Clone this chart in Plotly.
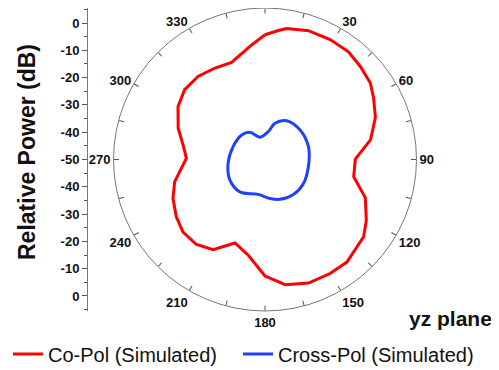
import plotly.graph_objects as go

# Co-Pol (red) pattern, angle in degrees (clockwise from top), value in dB
theta_co = [0, 5.9, 9.4, 18.6, 28.5, 37.8, 45.7, 54.0, 60.5, 69.1, 79.5, 89.7, 101.0,
            110.8, 121.0, 128.1, 141.4, 150.3, 160.6, 170.9, 173.3, 180.0, 189.9, 199.8,
            209.9, 218.9, 228.5, 237.1, 247.1, 256.1, 270.9, 280.1, 289.8, 301.3, 311.0,
            321.1, 331.3, 341.0, 352.4, 360]
r_co = [-4.3, -2.5, -1.4, -0.2, 0.0, -0.1, -1.2, -2.3, -4.3, -6.7, -10.7, -16.9, -16.9,
        -10.7, -6.7, -4.1, -1.9, -1.9, -2.0, -3.5, -4.8, -7.3, -14.4, -17.5,
        -11.9, -10.0, -9.9, -11.3, -13.4, -15.9, -21.2, -19.5, -16.2, -12.7, -11.0,
        -10.9, -11.8, -12.4, -8.2, -4.3]

# Cross-Pol (blue) pattern
theta_x = [347.3, 6.8, 15.4, 29.2, 49.9, 73.5, 99.4, 121.9, 140.9, 159.4, 172.7, 190.9,
           217.8, 239.6, 264.1, 292.0, 316.4, 331.1, 347.3]
r_x = [-41.6, -39.7, -36.2, -33.7, -33.2, -33.4, -33.9, -33.4, -33.5, -34.4, -35.6, -37.0,
       -35.0, -35.1, -36.4, -37.4, -37.6, -38.6, -41.6]

ang_ticks = list(range(0, 360, 15))
ang_labels = [str(a) if (a % 30 == 0 and a != 0) else "" for a in ang_ticks]

y_ticks = [-50, -40, -30, -20, -10, 0, 10, 20, 30, 40, 50]
y_labels = ["0", "-10", "-20", "-30", "-40", "-50", "-40", "-30", "-20", "-10", "0"]

# the page adds an 8px body margin, so the figure is 8px smaller and all
# positions below are page positions minus 8
OFF = 8
W, H = 499 - OFF, 370 - OFF
cx, cy, R = 265 - OFF, 159.5 - OFF, 151.5


def px(x):
    return (x - OFF) / W


def py(y):
    return 1 - (y - OFF) / H


FONT = "Liberation Sans, Arial, sans-serif"

fig = go.Figure()
fig.add_trace(go.Scatterpolar(theta=theta_co, r=r_co, mode="lines", name="Co-Pol (Simulated)",
                              line=dict(color="#FF0000", width=3), legend="legend"))
fig.add_trace(go.Scatterpolar(theta=theta_x, r=r_x, mode="lines", name="Cross-Pol (Simulated)",
                              line=dict(color="#2040FF", width=3, shape="spline", smoothing=1),
                              legend="legend2"))
# invisible trace so the cartesian dB scale is drawn
fig.add_trace(go.Scatter(x=[None], y=[None], mode="lines", showlegend=False, hoverinfo="skip"))

ydom = [max(0.0, 1 - (cy + R) / H), min(1.0, 1 - (cy - R) / H)]
legend_style = dict(orientation="h", xanchor="left", y=py(354), yanchor="middle",
                    font=dict(size=20, family=FONT, color="#111"), bgcolor="rgba(0,0,0,0)")
fig.update_layout(
    width=W, height=H,
    margin=dict(l=0, r=0, t=0, b=0, autoexpand=False),
    paper_bgcolor="white", plot_bgcolor="rgba(0,0,0,0)",
    font=dict(family=FONT, color="black"),
    polar=dict(
        domain=dict(x=[(cx - R) / W, (cx + R) / W], y=ydom),
        bgcolor="white",
        angularaxis=dict(rotation=90, direction="clockwise", tickmode="array",
                         tickvals=ang_ticks, ticktext=ang_labels, ticks="inside", ticklen=5,
                         tickcolor="#555", linecolor="#777", linewidth=1, showgrid=False,
                         tickfont=dict(size=13, family=FONT, weight="bold", color="#111")),
        radialaxis=dict(range=[-50, 5.5], visible=False, showgrid=False),
    ),
    xaxis=dict(visible=False, domain=[0.17, 0.18], range=[0, 1]),
    yaxis=dict(domain=ydom, range=[-55.5, 55.5], anchor="free", position=px(87),
               tickmode="array", tickvals=y_ticks, ticktext=y_labels,
               ticks="outside", ticklen=5, tickcolor="#555",
               showline=True, linecolor="#777", linewidth=1, showgrid=False, zeroline=False,
               minor=dict(dtick=5, tick0=0, ticks="outside", ticklen=3, tickcolor="#555"),
               tickfont=dict(size=13, family=FONT, weight="bold", color="#111")),
    showlegend=True,
    legend=dict(x=px(8), **legend_style),
    legend2=dict(x=px(238), **legend_style),
    annotations=[
        dict(text="<b>Relative Power (dB)</b>", x=px(27), y=py(152), xref="paper", yref="paper",
             textangle=-90, showarrow=False, font=dict(size=23, family=FONT, color="#111"),
             xanchor="center", yanchor="middle"),
        dict(text="<b>yz plane</b>", x=px(450), y=py(318), xref="paper", yref="paper",
             showarrow=False, font=dict(size=21, family=FONT, color="#111"),
             xanchor="center", yanchor="middle"),
    ],
)

fig.write_html("out.html")
